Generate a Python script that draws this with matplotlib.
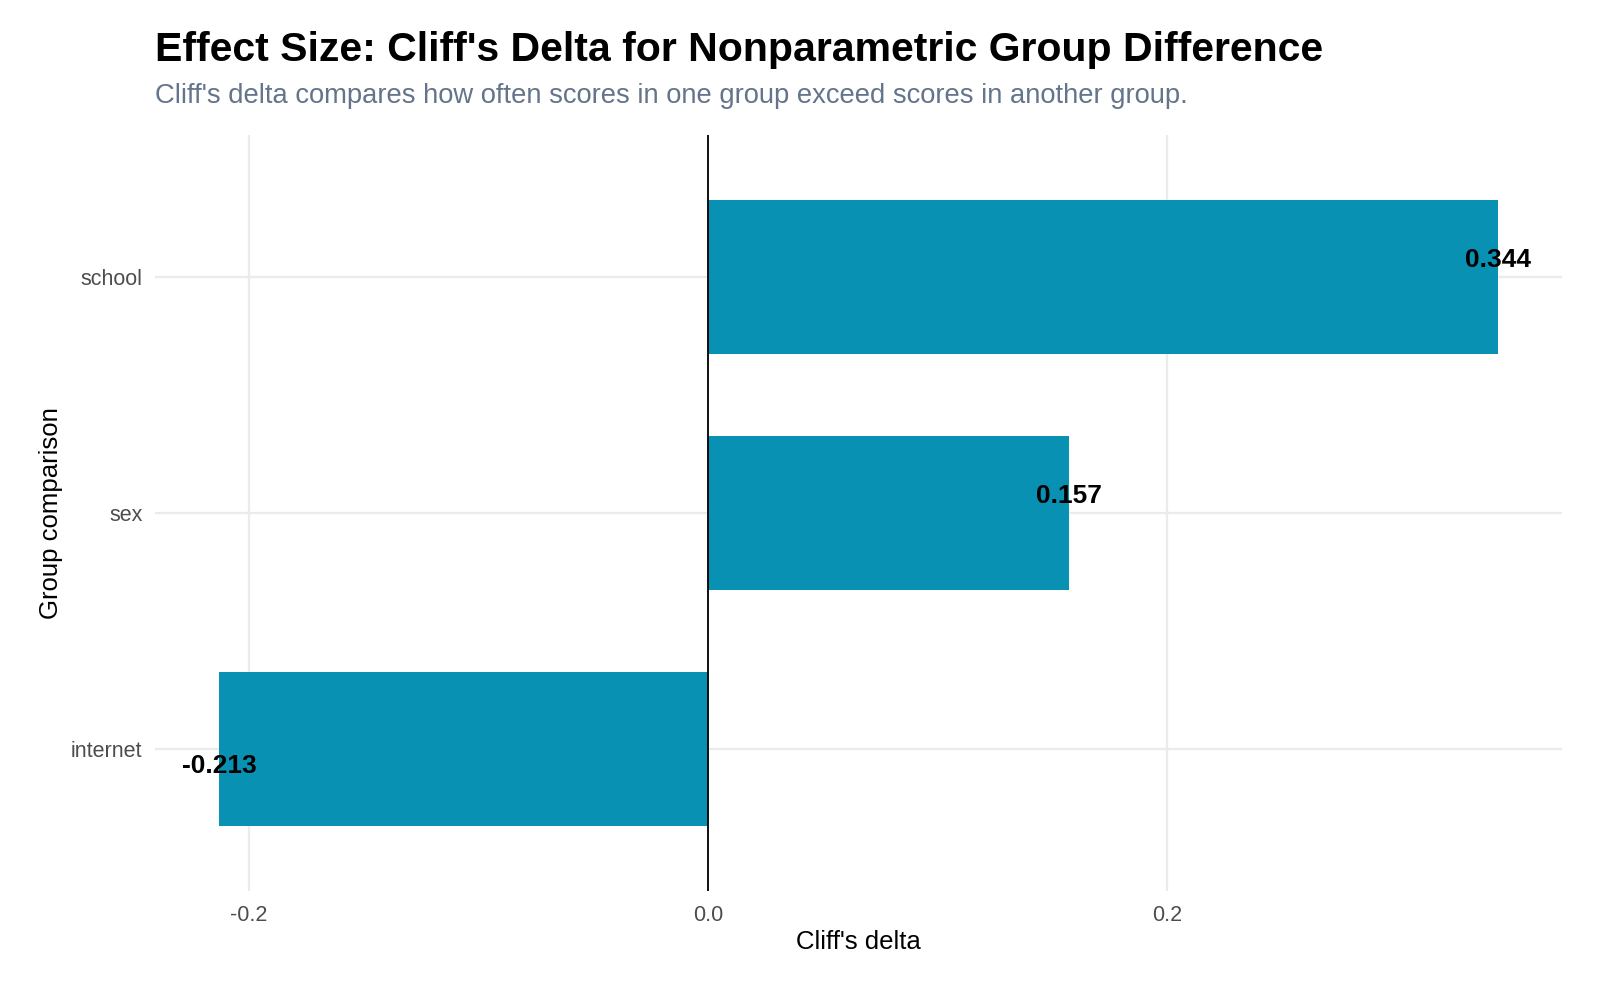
import numpy as np
import matplotlib.pyplot as plt

plt.rcParams['font.family'] = ['Liberation Sans', 'DejaVu Sans']

# Datos
groups = ['internet', 'sex', 'school']
deltas = [-0.213, 0.157, 0.344]
labels = ['-0.213', '0.157', '0.344']
x_ticks = [-0.2, 0.0, 0.2]
x_tick_labels = ['-0.2', '0.0', '0.2']

bar_color = '#0891B2'
grid_color = '#EBEBEB'

fig = plt.figure(figsize=(16, 9.84), dpi=100)
ax = fig.add_axes([155/1600, 1 - 891/984, (1562 - 155)/1600, (891 - 135)/984])

y = np.arange(len(groups))
ax.barh(y, deltas, height=0.65, color=bar_color, zorder=2)
ax.axvline(0, color='black', lw=1.3, zorder=3)

# Etiquetas de valor
for yi, d, lab in zip(y, deltas, labels):
    off = 0.073 if d > 0 else -0.07
    ax.text(d, yi + off, lab, ha='center', va='center', fontsize=19,
            fontweight='bold', color='black', zorder=4)

# Escalas tipo ggplot (expansion 5% continua, 0.6 discreta)
lo, hi = min(deltas), max(deltas)
pad = 0.05 * (hi - lo)
ax.set_xlim(lo - pad, hi + pad)
ax.set_ylim(-0.6, len(groups) - 0.4)

ax.set_xticks(x_ticks)
ax.set_xticklabels(x_tick_labels)
ax.set_yticks(y)
ax.set_yticklabels(groups)
ax.tick_params(axis='both', length=0, labelsize=15.5, labelcolor='#4D4D4D')
ax.tick_params(axis='x', pad=10)
ax.tick_params(axis='y', pad=9)

ax.grid(True, color=grid_color, lw=1.6, zorder=0)
ax.set_axisbelow(True)
for s in ax.spines.values():
    s.set_visible(False)

ax.set_xlabel("Cliff's delta", fontsize=18.5, color='black', labelpad=3)
ax.set_ylabel('Group comparison', fontsize=18.5, color='black', labelpad=6)

fig.text(155/1600, 1 - 61/984, "Effect Size: Cliff's Delta for Nonparametric Group Difference",
         fontsize=29.5, fontweight='bold', color='black', ha='left', va='baseline')
fig.text(155/1600, 1 - 103/984,
         "Cliff's delta compares how often scores in one group exceed scores in another group.",
         fontsize=19.7, color='#64748B', ha='left', va='baseline')

fig.savefig('out.png', dpi=100, facecolor='white')
